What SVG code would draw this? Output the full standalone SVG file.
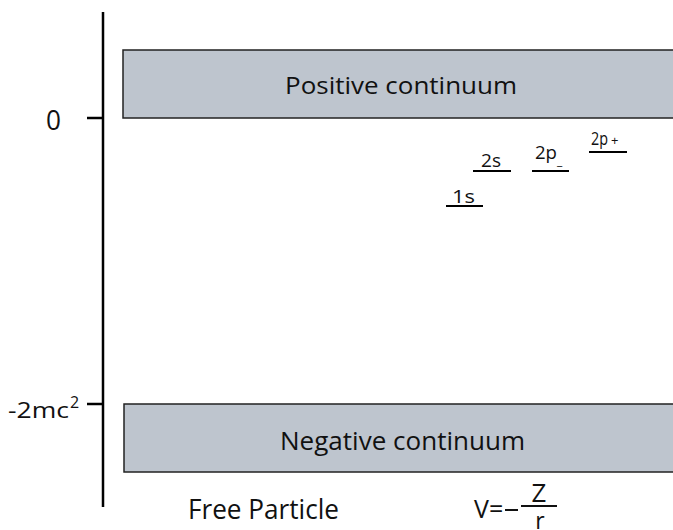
<svg xmlns="http://www.w3.org/2000/svg" width="673" height="530" viewBox="0 0 673 530">
<style>
text{font-family:"Open Sans",Lato,"DejaVu Sans",sans-serif;fill:#111}
.box{fill:#bec5ce;stroke:#222;stroke-width:1.5}
.ax{stroke:#000;stroke-width:2.5;fill:none}
.lv{stroke:#000;stroke-width:2;fill:none}
.sm{font-size:18px}
</style>
<g id="axis">
<line class="ax" x1="103" y1="12" x2="103" y2="507"/>
<line class="ax" x1="87" y1="118" x2="103" y2="118"/>
<line class="ax" x1="87" y1="404" x2="103" y2="404"/>
<text font-size="27" x="46" y="130" textLength="15" lengthAdjust="spacingAndGlyphs">0</text>
<text font-size="22" x="8" y="418"><tspan textLength="61" lengthAdjust="spacingAndGlyphs">-2mc</tspan><tspan font-size="16" x="70" y="408">2</tspan></text>
</g>
<g id="positive">
<rect class="box" x="123" y="50" width="560" height="68"/>
<text font-size="24" x="285" y="94" textLength="232" lengthAdjust="spacingAndGlyphs">Positive continuum</text>
</g>
<g id="negative">
<rect class="box" x="124" y="404" width="560" height="68"/>
<text font-size="25" x="280" y="450" textLength="245" lengthAdjust="spacingAndGlyphs">Negative continuum</text>
</g>
<g id="levels">
<line class="lv" x1="446" y1="206" x2="483" y2="206"/>
<text class="sm" x="452" y="203" textLength="23" lengthAdjust="spacingAndGlyphs">1s</text>
<line class="lv" x1="473" y1="171" x2="511" y2="171"/>
<text class="sm" x="481" y="167" textLength="20" lengthAdjust="spacingAndGlyphs">2s</text>
<line class="lv" x1="532" y1="171" x2="569" y2="171"/>
<text class="sm" x="535" y="159"><tspan textLength="22" lengthAdjust="spacingAndGlyphs">2p</tspan><tspan font-size="12" x="557" y="165">_</tspan></text>
<line class="lv" x1="589" y1="152" x2="627" y2="152"/>
<text class="sm" x="591" y="145"><tspan textLength="17" lengthAdjust="spacingAndGlyphs">2p</tspan><tspan font-size="13" x="611" y="145">+</tspan></text>
</g>
<g id="labels">
<text font-size="27" x="188" y="519" textLength="151" lengthAdjust="spacingAndGlyphs">Free Particle</text>
<text font-size="25" x="474" y="518">V=</text>
<line x1="505" y1="510" x2="518" y2="510" stroke="#111" stroke-width="2"/>
<line x1="521" y1="506" x2="557" y2="506" stroke="#111" stroke-width="2"/>
<text font-size="26" x="539" y="502" text-anchor="middle">Z</text>
<text font-size="23" x="540" y="529" text-anchor="middle">r</text>
</g>
</svg>
